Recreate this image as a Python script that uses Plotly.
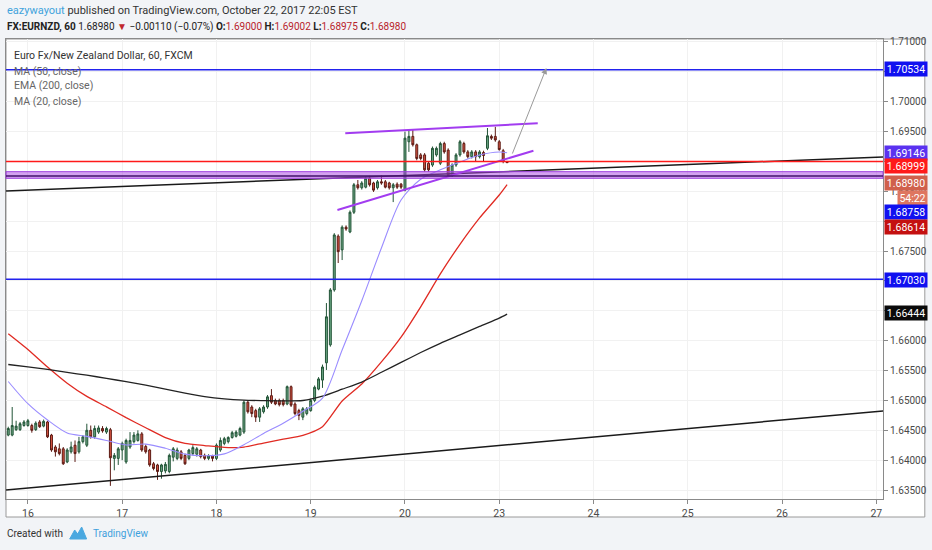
import plotly.graph_objects as go

# ---------------- data ----------------
day_labels = ["16", "17", "18", "19", "20", "23", "24", "25", "26", "27"]
day_start_hours = [0, 24, 48, 72, 96, 120, 144, 168, 192, 216]

price_ticks = [1.635, 1.640, 1.645, 1.650, 1.655, 1.660, 1.665, 1.670, 1.675, 1.680,
               1.685, 1.690, 1.695, 1.700, 1.705, 1.710]
# labels hidden behind the price flags on the axis are left blank
price_tick_labels = ["1.63500", "1.64000", "1.64500", "1.65000", "1.65500", "1.66000", "",
                     "", "1.67500", "", "1.68500", "", "1.69500", "1.70000", "", "1.71000"]

hours = list(range(-5, 123))
opens = [1.6442, 1.6442, 1.6451, 1.6451, 1.6458, 1.6458, 1.6458, 1.6451, 1.6464, 1.6457,
         1.6464, 1.6442, 1.6422, 1.6419, 1.6419, 1.6397, 1.6414, 1.6425, 1.6414, 1.6431,
         1.6425, 1.6450, 1.6439, 1.6447, 1.6453, 1.6447, 1.6451, 1.6403, 1.6403, 1.6417,
         1.6397, 1.6422, 1.6431, 1.6433, 1.6444, 1.6423, 1.6417, 1.6394, 1.6392, 1.6381,
         1.6382, 1.6381, 1.6405, 1.6403, 1.6414, 1.6408, 1.6403, 1.6411, 1.6410, 1.6417,
         1.6408, 1.6403, 1.6407, 1.6403, 1.6417, 1.6428, 1.6431, 1.6438, 1.6440, 1.6442,
         1.6447, 1.6497, 1.6489, 1.6483, 1.6472, 1.6481, 1.6489, 1.6508, 1.6500, 1.6500,
         1.6500, 1.6494, 1.6523, 1.6494, 1.6483, 1.6472, 1.6478, 1.6483, 1.6500, 1.6519,
         1.6534, 1.6563, 1.6593, 1.6685, 1.6775, 1.6752, 1.6790, 1.6782, 1.6815, 1.6861,
         1.6856, 1.6857, 1.6872, 1.6864, 1.6856, 1.6866, 1.6866, 1.6864, 1.6856, 1.6862,
         1.6862, 1.6852, 1.6933, 1.6942, 1.6928, 1.6911, 1.6911, 1.6897, 1.6894, 1.6911,
         1.6897, 1.6930, 1.6919, 1.6877, 1.6894, 1.6911, 1.6930, 1.6916, 1.6908, 1.6916,
         1.6908, 1.6915, 1.6922, 1.6942, 1.6942, 1.6933, 1.6918, 1.69000]
highs = [1.6456, 1.6489, 1.6466, 1.6464, 1.6467, 1.6469, 1.6461, 1.6465, 1.6467, 1.6468,
         1.6466, 1.6444, 1.6425, 1.6428, 1.6422, 1.6420, 1.6431, 1.6433, 1.6439, 1.6442,
         1.6461, 1.6458, 1.6458, 1.6458, 1.6457, 1.6456, 1.6454, 1.6412, 1.6422, 1.6431,
         1.6436, 1.6447, 1.6447, 1.6450, 1.6447, 1.6426, 1.6419, 1.6397, 1.6394, 1.6394,
         1.6397, 1.6411, 1.6422, 1.6421, 1.6417, 1.6411, 1.6419, 1.6425, 1.6422, 1.6419,
         1.6411, 1.6410, 1.6409, 1.6428, 1.6438, 1.6439, 1.6440, 1.6449, 1.6450, 1.6456,
         1.6500, 1.6500, 1.6492, 1.6486, 1.6489, 1.6492, 1.6509, 1.6519, 1.6503, 1.6503,
         1.6503, 1.6525, 1.6525, 1.6497, 1.6486, 1.6489, 1.6489, 1.6503, 1.6525, 1.6539,
         1.6560, 1.6663, 1.6688, 1.6780, 1.6778, 1.6793, 1.6793, 1.6818, 1.6864, 1.6869,
         1.6867, 1.6875, 1.6876, 1.6866, 1.6869, 1.6877, 1.6869, 1.6866, 1.6864, 1.6865,
         1.6864, 1.6950, 1.6953, 1.6953, 1.6930, 1.6914, 1.6914, 1.6900, 1.6925, 1.6925,
         1.6933, 1.6933, 1.6922, 1.6897, 1.6914, 1.6936, 1.6933, 1.6919, 1.6919, 1.6919,
         1.6919, 1.6918, 1.6956, 1.6945, 1.6958, 1.6936, 1.6921, 1.69002]
lows = [1.6440, 1.6440, 1.6449, 1.6449, 1.6456, 1.6456, 1.6446, 1.6449, 1.6454, 1.6455,
        1.6437, 1.6414, 1.6406, 1.6408, 1.6392, 1.6395, 1.6411, 1.6397, 1.6411, 1.6428,
        1.6422, 1.6436, 1.6436, 1.6444, 1.6446, 1.6444, 1.6357, 1.6383, 1.6392, 1.6400,
        1.6394, 1.6419, 1.6428, 1.6431, 1.6414, 1.6411, 1.6389, 1.6383, 1.6367, 1.6369,
        1.6378, 1.6378, 1.6398, 1.6400, 1.6400, 1.6392, 1.6400, 1.6408, 1.6406, 1.6403,
        1.6400, 1.6400, 1.6398, 1.6400, 1.6414, 1.6425, 1.6428, 1.6436, 1.6438, 1.6440,
        1.6444, 1.6478, 1.6472, 1.6464, 1.6464, 1.6478, 1.6486, 1.6494, 1.6492, 1.6490,
        1.6490, 1.6492, 1.6489, 1.6475, 1.6467, 1.6467, 1.6475, 1.6481, 1.6497, 1.6517,
        1.6521, 1.6551, 1.6590, 1.6682, 1.6730, 1.6735, 1.6784, 1.6780, 1.6812, 1.6853,
        1.6853, 1.6855, 1.6858, 1.6849, 1.6853, 1.6861, 1.6855, 1.6853, 1.6832, 1.6854,
        1.6854, 1.6850, 1.6916, 1.6925, 1.6902, 1.6902, 1.6883, 1.6883, 1.6891, 1.6908,
        1.6894, 1.6913, 1.6875, 1.6874, 1.6891, 1.6908, 1.6913, 1.6905, 1.6905, 1.6900,
        1.6905, 1.6900, 1.6919, 1.6936, 1.6933, 1.6918, 1.6897, 1.68975]
closes = [1.6453, 1.6458, 1.6457, 1.6461, 1.6464, 1.6466, 1.6450, 1.6462, 1.6456, 1.6465,
          1.6439, 1.6417, 1.6414, 1.6411, 1.6394, 1.6417, 1.6422, 1.6411, 1.6431, 1.6439,
          1.6450, 1.6439, 1.6453, 1.6454, 1.6449, 1.6453, 1.6404, 1.6408, 1.6419, 1.6428,
          1.6433, 1.6433, 1.6442, 1.6444, 1.6417, 1.6414, 1.6392, 1.6386, 1.6381, 1.6392,
          1.6393, 1.6408, 1.6419, 1.6417, 1.6403, 1.6394, 1.6417, 1.6421, 1.6419, 1.6406,
          1.6403, 1.6407, 1.6403, 1.6425, 1.6433, 1.6436, 1.6438, 1.6446, 1.6447, 1.6453,
          1.6497, 1.6481, 1.6478, 1.6472, 1.6486, 1.6489, 1.6506, 1.6497, 1.6494, 1.6493,
          1.6493, 1.6523, 1.6492, 1.6478, 1.6475, 1.6486, 1.6486, 1.6500, 1.6522, 1.6536,
          1.6556, 1.6640, 1.6685, 1.6777, 1.6749, 1.6790, 1.6787, 1.6815, 1.6861, 1.6856,
          1.6864, 1.6872, 1.6861, 1.6852, 1.6866, 1.6864, 1.6857, 1.6856, 1.6861, 1.6857,
          1.6857, 1.6939, 1.6942, 1.6928, 1.6905, 1.6905, 1.6886, 1.6886, 1.6922, 1.6922,
          1.6930, 1.6916, 1.6877, 1.6894, 1.6911, 1.6933, 1.6916, 1.6908, 1.6916, 1.6908,
          1.6916, 1.6910, 1.6943, 1.6939, 1.6936, 1.6920, 1.6900, 1.68980]

ma_hours = [-5, 0, 5, 10, 15, 20, 25, 30, 35, 40, 45, 50, 55, 60, 65, 70, 75, 80, 85,
            90, 95, 100, 105, 110, 115, 120, 122]
ma50 = [1.66117, 1.65854, 1.65559, 1.65288, 1.65067, 1.64893, 1.64712, 1.64543, 1.64379,
        1.64280, 1.64245, 1.64214, 1.64220, 1.64287, 1.64351, 1.64416, 1.64560, 1.64990,
        1.65275, 1.65645, 1.66060, 1.66567, 1.67118, 1.67613, 1.68055, 1.68439, 1.68614]
ema200 = [1.65601, 1.65561, 1.65518, 1.65469, 1.65422, 1.65370, 1.65313, 1.65255, 1.65191,
          1.65124, 1.65064, 1.65025, 1.65004, 1.64997, 1.64992, 1.64999, 1.65071, 1.65188,
          1.65308, 1.65471, 1.65636, 1.65802, 1.65956, 1.66097, 1.66239, 1.66378, 1.66444]
ma20 = [1.65317, 1.64945, 1.64672, 1.64455, 1.64398, 1.64329, 1.64255, 1.64269, 1.64200,
        1.64101, 1.64073, 1.64105, 1.64259, 1.64448, 1.64619, 1.64819, 1.65040, 1.65844,
        1.66669, 1.67551, 1.68355, 1.68703, 1.68860, 1.68991, 1.69108, 1.69159, 1.69146]

blue_levels = [1.70534, 1.67030]
red_level = 1.68999
band_top, band_bottom, band_mid = 1.68829, 1.68718, 1.68758

upper_trend_hours, upper_trend_prices = [-10, 230], [1.68495, 1.69107]
lower_trend_hours, lower_trend_prices = [-10, 230], [1.63474, 1.64897]
channel_top_hours, channel_top_prices = [80.8, 129.8], [1.69472, 1.69639]
channel_bot_hours, channel_bot_prices = [78.8, 128.7], [1.68188, 1.69180]
arrow_hours, arrow_prices = [123.2, 132.0], [1.69108, 1.70565]

countdown = "54:22"

# ---------------- figure ----------------
W, H = 932, 550
L, R, T, B = 5, 886, 39, 499


def px(x, y):
    return (x - L) / (R - L), (B - y) / (B - T)


fig = go.Figure()

fig.add_trace(go.Scatter(x=ma_hours, y=ma50, mode="lines",
                         line=dict(color="#e02a22", width=1.3, shape="spline", smoothing=0.6),
                         hoverinfo="skip"))
fig.add_trace(go.Scatter(x=ma_hours, y=ema200, mode="lines",
                         line=dict(color="#222222", width=1.3, shape="spline", smoothing=0.6),
                         hoverinfo="skip"))
fig.add_trace(go.Scatter(x=ma_hours, y=ma20, mode="lines",
                         line=dict(color="#9a8cff", width=1.1, shape="spline", smoothing=0.8),
                         hoverinfo="skip"))

fig.add_trace(go.Candlestick(
    x=hours, open=opens, high=highs, low=lows, close=closes,
    increasing=dict(line=dict(color="#225437", width=1), fillcolor="#6ba583"),
    decreasing=dict(line=dict(color="#5b1a13", width=1), fillcolor="#d75442"),
    whiskerwidth=0, hoverinfo="skip"))

for hx, hy, col, wdt in [
    (upper_trend_hours, upper_trend_prices, "#1a1a1a", 1.5),
    (lower_trend_hours, lower_trend_prices, "#1a1a1a", 1.5),
    (channel_top_hours, channel_top_prices, "#a23cf0", 2),
    (channel_bot_hours, channel_bot_prices, "#a23cf0", 2),
]:
    fig.add_trace(go.Scatter(x=hx, y=hy, mode="lines",
                             line=dict(color=col, width=wdt), hoverinfo="skip"))

shapes = []
# chart panel (white, with border) including axis strips
x0p, y0p = px(L, 517)
x1p, _ = px(928, T)
shapes.append(dict(type="rect", xref="paper", yref="paper", x0=x0p, x1=x1p, y0=y0p, y1=1,
                   fillcolor="white", line=dict(color="#9a9a9a", width=1), layer="below"))
for lv in blue_levels:
    shapes.append(dict(type="line", xref="paper", yref="y", x0=0, x1=1, y0=lv, y1=lv,
                       line=dict(color="#2222ee", width=1.5)))
shapes.append(dict(type="line", xref="paper", yref="y", x0=0, x1=1, y0=red_level, y1=red_level,
                   line=dict(color="#ff1a1a", width=1.5)))
shapes.append(dict(type="rect", xref="paper", yref="y", x0=0, x1=1, y0=band_bottom, y1=band_top,
                   fillcolor="rgba(170,70,225,0.5)", line=dict(color="#a040e0", width=1)))
shapes.append(dict(type="line", xref="paper", yref="y", x0=0, x1=1, y0=band_mid, y1=band_mid,
                   line=dict(color="#40106a", width=1.5)))

annotations = []
# arrow drawing
annotations.append(dict(x=arrow_hours[1], y=arrow_prices[1], ax=arrow_hours[0], ay=arrow_prices[0],
                        xref="x", yref="y", axref="x", ayref="y", text="", showarrow=True,
                        arrowhead=2, arrowsize=1.2, arrowwidth=1, arrowcolor="#9a9a9a"))

LBL_FONT = "Roboto"


def price_label(value, text, bg, yshift=0, width=40, fg="white"):
    annotations.append(dict(x=1, xref="paper", y=value, yref="y", xanchor="left", yanchor="middle",
                            xshift=1, yshift=yshift, text=text, showarrow=False,
                            bgcolor=bg, width=width, height=12, borderpad=1, align="center",
                            font=dict(family=LBL_FONT, size=10.5, color=fg)))


price_label(blue_levels[0], f"{blue_levels[0]:.5f}", "#1010f0", 1)
price_label(ma20[-1], f"{ma20[-1]:.5f}", "#5a32f0", 0)
price_label(red_level, f"{red_level:.5f}", "#ff1a1a", -4)
price_label(closes[-1], f"{closes[-1]:.5f}", "#d0604c", -20)
annotations.append(dict(x=1, xref="paper", y=closes[-1], yref="y", xanchor="left", yanchor="middle",
                        xshift=14, yshift=-35, text=countdown, showarrow=False,
                        bgcolor="#de7660", width=27, height=12, borderpad=1, align="center",
                        font=dict(family=LBL_FONT, size=10.5, color="white")))
price_label(band_mid, f"{band_mid:.5f}", "#1010f0", -36)
price_label(ma50[-1], f"{ma50[-1]:.5f}", "#c41010", -42)
price_label(blue_levels[1], f"{blue_levels[1]:.5f}", "#1010f0", -1)
price_label(ema200[-1], f"{ema200[-1]:.5f}", "#0a0a0a", 1)

RED = "#b8232b"
xa, ya = px(4, 10)
annotations.append(dict(x=xa, y=ya, xref="paper", yref="paper", xanchor="left", yanchor="middle",
                        showarrow=False, font=dict(family="Roboto", size=11, color="#333333"),
                        text="<span style='color:#3fa3dc'>eazywayout</span> published on TradingView.com, "
                             "October 22, 2017 22:05 EST"))
xa, ya = px(4, 27)
annotations.append(dict(x=xa, y=ya, xref="paper", yref="paper", xanchor="left", yanchor="middle",
                        showarrow=False, font=dict(family="Roboto", size=10, color="#222222"),
                        text=f"<b>FX:EURNZD, 60</b> {closes[-1]:.5f} <span style='color:#c0282d'>▼</span> "
                             f"−0.00110 (−0.07%) <b>O:</b><span style='color:{RED}'>{opens[-1]:.5f}</span> "
                             f"<b>H:</b><span style='color:{RED}'>{highs[-1]:.5f}</span> "
                             f"<b>L:</b><span style='color:{RED}'>{lows[-1]:.5f}</span> "
                             f"<b>C:</b><span style='color:{RED}'>{closes[-1]:.5f}</span>"))

for text, yy, col in [("Euro Fx/New Zealand Dollar, 60, FXCM", 55, "#333333"),
                      ("MA (50, close)", 71, "#666666"),
                      ("EMA (200, close)", 86, "#666666"),
                      ("MA (20, close)", 101, "#666666")]:
    xa, ya = px(11, yy)
    annotations.append(dict(x=xa, y=ya, xref="paper", yref="paper", xanchor="left", yanchor="middle",
                            showarrow=False, text=text,
                            font=dict(family="Roboto", size=10.5, color=col)))

xa, ya = px(4, 533)
annotations.append(dict(x=xa, y=ya, xref="paper", yref="paper", xanchor="left", yanchor="middle",
                        showarrow=False, text="Created with",
                        font=dict(family="Roboto", size=10, color="#333333")))
xa, ya = px(90, 533)
annotations.append(dict(x=xa, y=ya, xref="paper", yref="paper", xanchor="left", yanchor="middle",
                        showarrow=False, text="TradingView",
                        font=dict(family="Roboto", size=10, color="#3ea0dc")))
# small logo mark
pts = [(69, 539), (74, 530), (77, 534), (81, 527), (86, 539)]
path = "M " + " L ".join(f"{px(a, b)[0]:.5f},{px(a, b)[1]:.5f}" for a, b in pts) + " Z"
shapes.append(dict(type="path", xref="paper", yref="paper", path=path,
                   fillcolor="#4aa8e0", line=dict(color="#4aa8e0", width=1)))

fig.update_layout(
    width=W, height=H,
    margin=dict(l=L, r=W - R, t=T, b=H - B, pad=0),
    paper_bgcolor="#f2f4f7", plot_bgcolor="white",
    showlegend=False,
    shapes=shapes, annotations=annotations,
    font=dict(family="Roboto", size=10, color="#4a4a4a"),
    xaxis=dict(range=[-5.575, 217.7], tickvals=day_start_hours, ticktext=day_labels,
               showgrid=True, gridcolor="#f1f1f1", zeroline=False,
               showline=True, linecolor="#8a8a8a", linewidth=1, mirror=True,
               ticks="outside", ticklen=4, tickcolor="#8a8a8a",
               tickfont=dict(family="Roboto", size=10.5, color="#4a4a4a"),
               rangeslider=dict(visible=False), fixedrange=True),
    yaxis=dict(range=[1.63350, 1.71050], side="right", tickvals=price_ticks,
               ticktext=price_tick_labels, showgrid=True, gridcolor="#f1f1f1", zeroline=False,
               showline=True, linecolor="#8a8a8a", linewidth=1, mirror=True,
               ticks="outside", ticklen=4, tickcolor="#8a8a8a",
               tickfont=dict(family="Roboto", size=10, color="#4a4a4a"),
               fixedrange=True),
)

fig.write_html("out.html", config={"displayModeBar": False, "staticPlot": True},
               post_script="document.body.style.margin='0';document.body.style.overflow='hidden';")
